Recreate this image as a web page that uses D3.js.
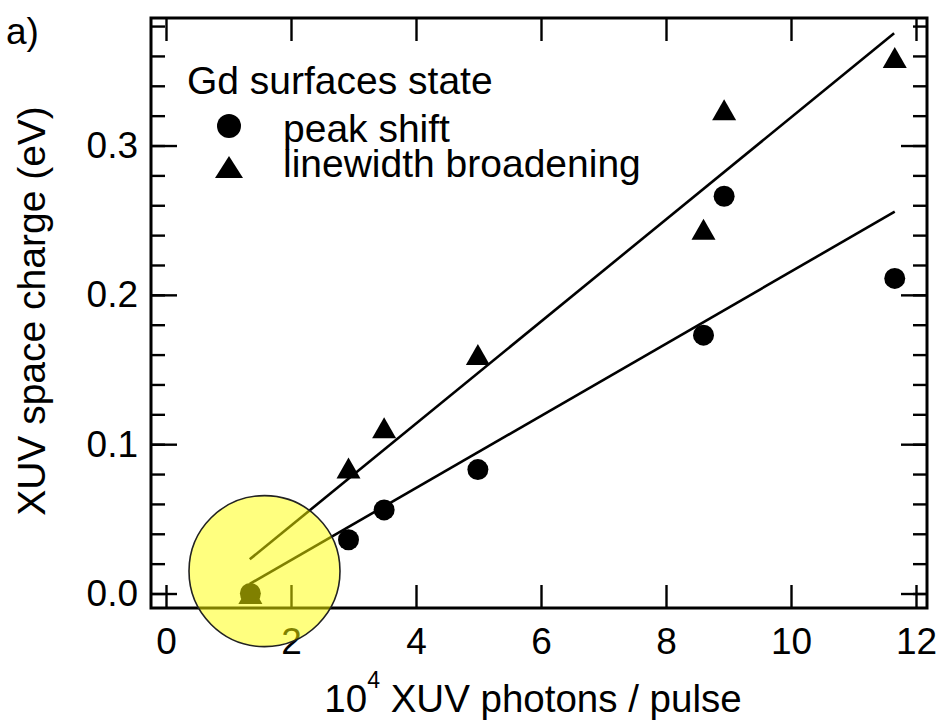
<!DOCTYPE html>
<html>
<head>
<meta charset="utf-8">
<script src="https://cdn.jsdelivr.net/npm/d3@7"></script>
<style>
  html, body { margin: 0; padding: 0; background: #fff; }
  svg text { font-family: "Liberation Sans", Arial, Helvetica, sans-serif; fill: #000; }
</style>
</head>
<body>
<svg id="chart" width="937" height="720"></svg>
<script>
// ── Data ──────────────────────────────────────────────────────
const photons      = [1.35, 2.92, 3.49, 4.99, 8.60, 8.93, 11.66];   // 10^4 photons / pulse
const peakShift    = [0.000, 0.036, 0.056, 0.083, 0.173, 0.266, 0.211];
const trianglePhot = [1.35, 2.92, 3.49, 4.99, 8.60, 8.93, 11.66];
const broadening   = [0.000, 0.084, 0.111, 0.160, 0.244, 0.324, 0.359];

// linear fits, as [x, y] end points
const fitPeak  = [[1.34, 0.0064], [11.66, 0.2557]];
const fitBroad = [[1.34, 0.0229], [11.65, 0.3752]];

const xTicks      = [0, 2, 4, 6, 8, 10, 12];
const yTicks      = [0.0, 0.1, 0.2, 0.3];
const yMinorTicks = d3.range(0, 0.3801, 0.02);

const legendTitle  = 'Gd surfaces state';
const legendLabels = ['peak shift', 'linewidth broadening'];

// highlight marker (data coords of centre)
const highlight = { x: 1.576, y: 0.015 };

// ── Layout ───────────────────────────────────────────────────
const frame = { left: 151, right: 927, top: 18, bottom: 608 };

const x = d3.scaleLinear().domain([-0.24, 12.176]).range([frame.left, frame.right]);
const y = d3.scaleLinear().domain([-0.0097, 0.3854]).range([frame.bottom, frame.top]);

const svg = d3.select('#chart');

// ── Fit lines ────────────────────────────────────────────────
const line = d3.line().x(d => x(d[0])).y(d => y(d[1]));
[fitBroad, fitPeak].forEach(f => {
  svg.append('path')
    .attr('d', line(f))
    .attr('fill', 'none')
    .attr('stroke', '#000')
    .attr('stroke-width', 2.6);
});

// ── Markers ──────────────────────────────────────────────────
const triPath = (w, h) => `M0,${-h / 2}L${w / 2},${h / 2}L${-w / 2},${h / 2}Z`;

svg.append('g').selectAll('path')
  .data(trianglePhot.map((p, i) => [p, broadening[i]]))
  .join('path')
  .attr('transform', d => `translate(${x(d[0])},${y(d[1])})`)
  .attr('d', triPath(24, 21))
  .attr('fill', '#000');

svg.append('g').selectAll('circle')
  .data(photons.map((p, i) => [p, peakShift[i]]))
  .join('circle')
  .attr('cx', d => x(d[0]))
  .attr('cy', d => y(d[1]))
  .attr('r', 10.5)
  .attr('fill', '#000');

// ── Axes (ticks pointing inward, mirrored) ───────────────────
function styleAxis(g) {
  g.select('.domain').remove();
  g.selectAll('.tick line').attr('stroke', '#000').attr('stroke-width', 2.4);
  g.selectAll('.tick text').attr('font-size', 37).attr('fill', '#000')
    .attr('font-family', '"Liberation Sans", Arial, sans-serif');
}

svg.append('g')
  .attr('transform', `translate(0,${frame.bottom})`)
  .call(d3.axisBottom(x).tickValues(xTicks).tickSize(-23).tickPadding(20).tickFormat(d3.format('d')))
  .call(styleAxis);

svg.append('g')
  .attr('transform', `translate(0,${frame.top})`)
  .call(d3.axisTop(x).tickValues(xTicks).tickSize(-23).tickFormat(''))
  .call(styleAxis);

svg.append('g')
  .attr('transform', `translate(${frame.left},0)`)
  .call(d3.axisLeft(y).tickValues(yMinorTicks).tickSize(-14).tickFormat(''))
  .call(styleAxis);

svg.append('g')
  .attr('transform', `translate(${frame.left},0)`)
  .call(d3.axisLeft(y).tickValues(yTicks).tickSize(-26).tickPadding(13).tickFormat(d3.format('.1f')))
  .call(styleAxis);

svg.append('g')
  .attr('transform', `translate(${frame.right},0)`)
  .call(d3.axisRight(y).tickValues(yMinorTicks).tickSize(-14).tickFormat(''))
  .call(styleAxis);

svg.append('g')
  .attr('transform', `translate(${frame.right},0)`)
  .call(d3.axisRight(y).tickValues(yTicks).tickSize(-26).tickFormat(''))
  .call(styleAxis);

// frame
svg.append('rect')
  .attr('x', frame.left).attr('y', frame.top)
  .attr('width', frame.right - frame.left).attr('height', frame.bottom - frame.top)
  .attr('fill', 'none').attr('stroke', '#000').attr('stroke-width', 3);

// ── Axis titles ──────────────────────────────────────────────
const xt = svg.append('text')
  .attr('x', 533).attr('y', 712)
  .attr('text-anchor', 'middle')
  .attr('font-size', 38.5);
xt.append('tspan').text('10');
xt.append('tspan').attr('dy', -24).attr('font-size', 23).text('4');
xt.append('tspan').attr('dy', 24).text(' XUV photons / pulse');

svg.append('text')
  .attr('transform', 'translate(45,311) rotate(-90)')
  .attr('text-anchor', 'middle')
  .attr('font-size', 39)
  .text('XUV space charge (eV)');

svg.append('text')
  .attr('x', 6).attr('y', 44)
  .attr('font-size', 37)
  .text('a)');

// ── Legend ───────────────────────────────────────────────────
const lg = svg.append('g');
lg.append('text').attr('x', 187).attr('y', 94).attr('font-size', 39).text(legendTitle);
lg.append('circle').attr('cx', 229).attr('cy', 126).attr('r', 12).attr('fill', '#000');
lg.append('path').attr('transform', 'translate(229,167)').attr('d', triPath(28, 22)).attr('fill', '#000');
legendLabels.forEach((t, i) => {
  lg.append('text').attr('x', 283).attr('y', 142 + i * 35).attr('font-size', 39).text(t);
});

// ── Highlight circle ─────────────────────────────────────────
svg.append('circle')
  .attr('cx', x(highlight.x))
  .attr('cy', y(highlight.y))
  .attr('r', 75.5)
  .attr('fill', 'rgba(255,255,0,0.5)')
  .attr('stroke', '#222')
  .attr('stroke-width', 1.6);
</script>
</body>
</html>
